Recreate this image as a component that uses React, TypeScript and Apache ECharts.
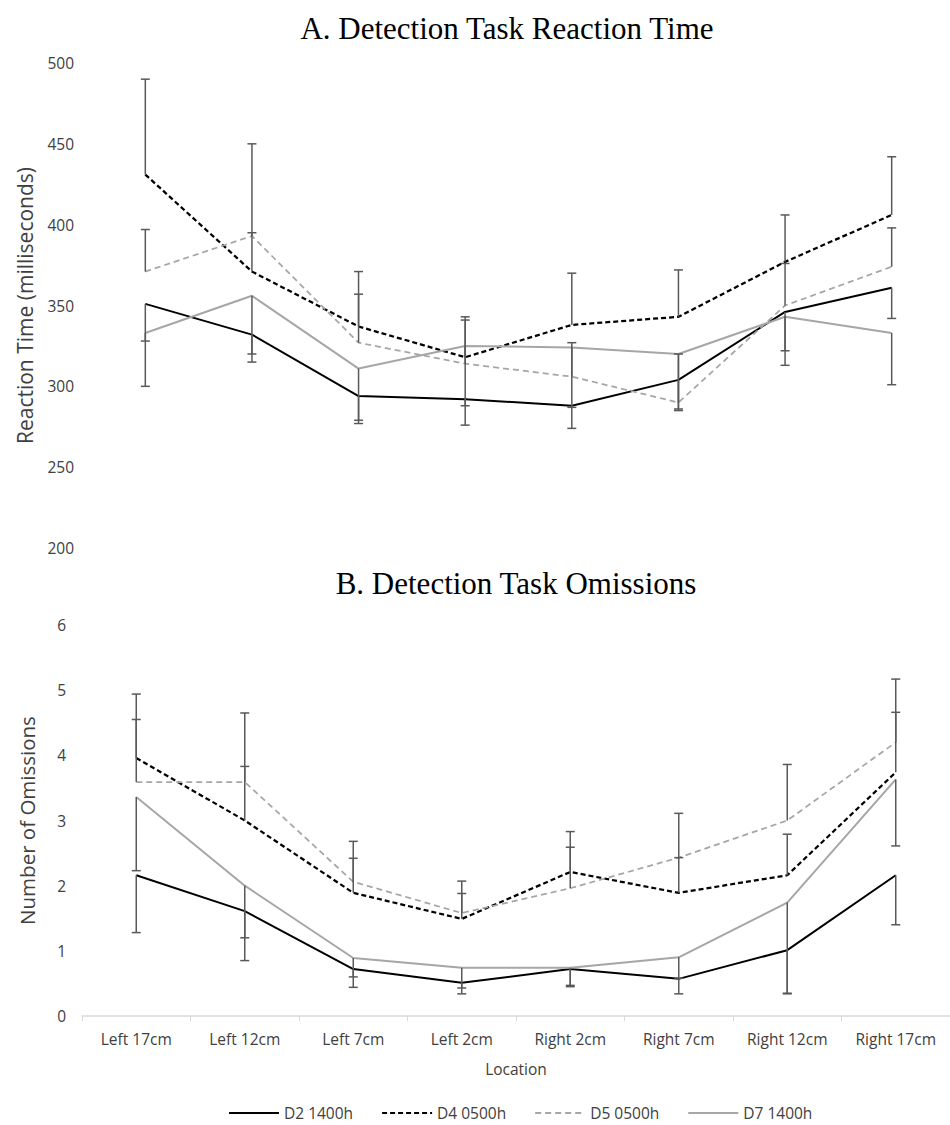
import React, { useEffect, useRef } from "react";
import * as echarts from "echarts";

const locations = ["Left 17cm", "Left 12cm", "Left 7cm", "Left 2cm", "Right 2cm", "Right 7cm", "Right 12cm", "Right 17cm"];
const seriesNames = ["D2 1400h", "D4 0500h", "D5 0500h", "D7 1400h"];

// A. Reaction time (ms)
const rtD2 = [351, 332, 294, 292, 288, 304, 346, 361];
const rtD4 = [431, 371, 337, 318, 338, 343, 377, 406];
const rtD5 = [371, 393, 327, 314, 306, 290, 350, 374];
const rtD7 = [333, 356, 311, 325, 324, 320, 343, 333];
// error bar ends
const rtD2Low = [300, 320, 277, 276, 274, 285, 322, 342];
const rtD4High = [490, 395, 371, 343, 370, 372, 406, 442];
const rtD5High = [397, 450, 357, 341, 327, 320, 376, 398];
const rtD7Low = [328, 315, 279, 288, 287, 286, 313, 301];

// B. Omissions
const omD2 = [2.16, 1.61, 0.72, 0.51, 0.72, 0.57, 1.01, 2.16];
const omD4 = [3.96, 3.0, 1.89, 1.49, 2.21, 1.89, 2.16, 3.74];
const omD5 = [3.59, 3.59, 2.06, 1.58, 1.96, 2.43, 3.0, 4.2];
const omD7 = [3.36, 2.0, 0.89, 0.74, 0.74, 0.9, 1.74, 3.63];
const omD2Low = [1.28, 1.2, 0.6, 0.34, 0.45, 0.34, 0.35, 1.4];
const omD4High = [4.55, 3.83, 2.42, 1.88, 2.83, 2.43, 2.79, 4.66];
const omD5High = [4.94, 4.65, 2.68, 2.07, 2.59, 3.11, 3.86, 5.17];
const omD7Low = [2.23, 0.85, 0.44, 0.43, 0.47, 0.58, 0.34, 2.61];

const SANS = "'Open Sans', 'Noto Sans', sans-serif";
const SERIF = "'Liberation Serif', 'DejaVu Serif', serif";
const TXT = "#404040";

const lineStyles = [
  { color: "#000000", width: 2, type: "solid" as any },
  { color: "#000000", width: 2.25, type: [5, 3] as any },
  { color: "#a6a6a6", width: 1.75, type: [6, 4] as any },
  { color: "#a6a6a6", width: 2, type: "solid" as any },
];

function errData(vals: number[][], ends: number[][]) {
  const out: number[][] = [];
  vals.forEach((v, s) => v.forEach((y, i) => out.push([i, y, ends[s][i]])));
  return out;
}

const renderErr = (params: any, api: any) => {
  const x = api.value(0);
  const p1 = api.coord([x, api.value(1)]);
  const p2 = api.coord([x, api.value(2)]);
  const st = { stroke: "#595959", lineWidth: 1.5 };
  return {
    type: "group",
    children: [
      { type: "line", shape: { x1: p1[0], y1: p1[1], x2: p2[0], y2: p2[1] }, style: st },
      { type: "line", shape: { x1: p2[0] - 4.5, y1: p2[1], x2: p2[0] + 4.5, y2: p2[1] }, style: st },
    ],
  };
};

export default function App() {
  const ref = useRef<HTMLDivElement>(null);
  useEffect(() => {
    document.body.style.margin = "0";
    const chart = echarts.init(ref.current!, null, { renderer: "svg" });
    const top = [rtD2, rtD4, rtD5, rtD7];
    const bot = [omD2, omD4, omD5, omD7];
    const lines: any[] = [];
    [top, bot].forEach((set, g) => {
      set.forEach((d, s) => {
        lines.push({
          name: seriesNames[s],
          type: "line",
          xAxisIndex: g,
          yAxisIndex: g,
          data: d,
          symbol: "none",
          lineStyle: lineStyles[s],
          itemStyle: { color: lineStyles[s].color },
          z: 2,
        });
      });
    });
    chart.setOption({
      animation: false,
      backgroundColor: "#ffffff",
      title: [
        { text: "A. Detection Task Reaction Time", left: 502, textAlign: "center", top: 8, textStyle: { fontFamily: SERIF, fontSize: 31, fontWeight: "normal", color: "#000" } },
        { text: "B. Detection Task Omissions", left: 511, textAlign: "center", top: 563, textStyle: { fontFamily: SERIF, fontSize: 31, fontWeight: "normal", color: "#000" } },
      ],
      legend: {
        data: seriesNames,
        left: 223,
        top: 1100,
        itemWidth: 50,
        itemHeight: 12,
        itemGap: 28,
        itemStyle: { opacity: 0 },
        textStyle: { fontFamily: SANS, fontSize: 15.5, color: TXT },
      },
      grid: [
        { left: 92, top: 63, width: 853, height: 485 },
        { left: 82, top: 625, width: 868, height: 391 },
      ],
      xAxis: [
        { type: "category", gridIndex: 0, data: locations, show: false },
        {
          type: "category",
          gridIndex: 1,
          data: locations,
          axisLine: { lineStyle: { color: "#d9d9d9", width: 1.5 } },
          axisTick: { show: true, length: 5, lineStyle: { color: "#d9d9d9" } },
          axisLabel: { fontFamily: SANS, fontSize: 15.5, color: TXT, margin: 15 },
          name: "Location",
          nameLocation: "middle",
          nameGap: 45,
          nameTextStyle: { fontFamily: SANS, fontSize: 15.5, color: TXT },
        },
      ],
      yAxis: [
        {
          type: "value",
          gridIndex: 0,
          min: 200,
          max: 500,
          interval: 50,
          splitLine: { show: false },
          axisLine: { show: false },
          axisTick: { show: false },
          axisLabel: { fontFamily: SANS, fontSize: 15.5, color: TXT, margin: 18 },
          name: "Reaction Time (milliseconds)",
          nameLocation: "middle",
          nameRotate: 90,
          nameGap: 57,
          nameTextStyle: { fontFamily: SANS, fontSize: 21, color: TXT },
        },
        {
          type: "value",
          gridIndex: 1,
          min: 0,
          max: 6,
          interval: 1,
          splitLine: { show: false },
          axisLine: { show: false },
          axisTick: { show: false },
          axisLabel: { fontFamily: SANS, fontSize: 15.5, color: TXT, margin: 16 },
          name: "Number of Omissions",
          nameLocation: "middle",
          nameRotate: 90,
          nameGap: 45,
          nameTextStyle: { fontFamily: SANS, fontSize: 20.5, color: TXT },
        },
      ],
      series: [
        ...lines,
        {
          type: "custom",
          xAxisIndex: 0,
          yAxisIndex: 0,
          renderItem: renderErr,
          data: errData(top, [rtD2Low, rtD4High, rtD5High, rtD7Low]),
          encode: { x: 0, y: [1, 2] },
          z: 3,
        },
        {
          type: "custom",
          xAxisIndex: 1,
          yAxisIndex: 1,
          renderItem: renderErr,
          data: errData(bot, [omD2Low, omD4High, omD5High, omD7Low]),
          encode: { x: 0, y: [1, 2] },
          z: 3,
        },
      ],
    });
    return () => chart.dispose();
  }, []);
  return <div ref={ref} style={{ width: 950, height: 1125 }} />;
}
